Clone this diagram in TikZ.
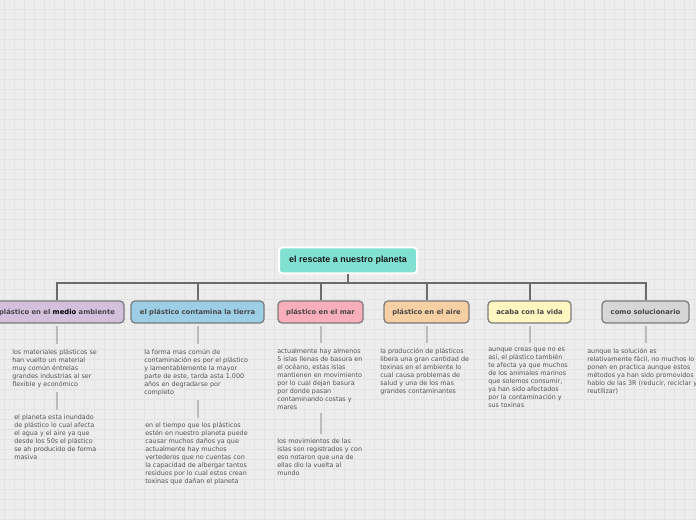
\documentclass[tikz,border=0pt]{standalone}
\usepackage{fontspec}
\setmainfont{DejaVu Sans}
\newfontfamily\rootfont{Liberation Sans}
\definecolor{bgc}{HTML}{EDEDED}
\definecolor{gridc}{HTML}{E3E3E3}
\definecolor{linec}{HTML}{6B6B6B}
\definecolor{sublinec}{HTML}{BBBBBB}
\definecolor{notec}{HTML}{555555}
\definecolor{labelc}{HTML}{474747}
\definecolor{rootc}{HTML}{80E1D2}
\definecolor{cpurple}{HTML}{D3C0DC}
\definecolor{cblue}{HTML}{9CCFE6}
\definecolor{cpink}{HTML}{F8AEBB}
\definecolor{cpeach}{HTML}{F6CFA3}
\definecolor{cyellow}{HTML}{FFF6C0}
\definecolor{cgrey}{HTML}{D6D6D6}
\begin{document}
\begin{tikzpicture}[x=0.75pt,y=-0.75pt,
  gridline/.style={gridc,line width=0.5pt},
  rootbox/.style={draw=white,line width=1.5pt,fill=rootc,rounded corners=2.5pt,
    minimum width=103.5pt,minimum height=19.5pt,inner sep=0pt,
    font=\rootfont\bfseries\fontsize{6.7pt}{8pt}\selectfont,text=black!90},
  topic/.style={draw=linec!90,line width=0.9pt,fill=#1,rounded corners=3pt,
    minimum height=16.5pt,inner sep=0pt,
    font=\bfseries\fontsize{5.1pt}{6pt}\selectfont,text=labelc},
  note/.style={anchor=north west,inner sep=0pt,align=left,text=notec,
    font=\fontsize{4.8pt}{6pt}\selectfont},
  link/.style={linec,line width=1.5pt},
  sublink/.style={sublinec,line width=1.5pt}
]
\useasboundingbox (0,0) rectangle (696,520);
\fill[bgc] (0,0) rectangle (696,520);
\foreach \gx in {4,14,...,694} \draw[gridline] (\gx,0) -- (\gx,520);
\foreach \gy in {9,19,...,519} \draw[gridline] (0,\gy) -- (696,\gy);

% root
\node[rootbox] (root) at (348,260.5) {el rescate a nuestro planeta};
\coordinate (bus) at (348,283);

% topics
\node[topic=cpurple,minimum width=100.5pt] (c1) at (57,312) {plástico en el \textcolor{black}{medio} ambiente};
\node[topic=cblue,minimum width=99.75pt] (c2) at (197.5,312) {el plástico contamina la tierra};
\node[topic=cpink,minimum width=63.75pt] (c3) at (320.5,312) {plástico en el mar};
\node[topic=cpeach,minimum width=63.75pt] (c4) at (426.5,312) {plástico en el aire};
\node[topic=cyellow,minimum width=62.25pt] (c5) at (529.5,312) {acaba con la vida};
\node[topic=cgrey,minimum width=65.25pt] (c6) at (645.5,312) {como solucionario};

% tree connectors
\draw[link] (root.south) -- (bus);
\foreach \c in {c1,c2,c3,c4,c5,c6}
  \draw[link] (bus) -| (\c.north);

% notes
\node[note] (n1a) at (12,349) {los materiales plásticos se\\han vuelto un material\\muy común éntrelas\\grandes industrias al ser\\flexible y económico};
\node[note] (n1b) at (14,414) {el planeta esta inundado\\de plástico lo cual afecta\\el agua y el aire ya que\\desde los 50s el plástico\\se ah producido de forma\\masiva};
\node[note] (n2a) at (144,349) {la forma mas común de\\contaminación es por el plástico\\y lamentablemente la mayor\\parte de este, tarda asta 1.000\\años en degradarse por\\completo};
\node[note] (n2b) at (145,422) {en el tiempo que los plásticos\\estén en nuestro planeta puede\\causar muchos daños ya que\\actualmente hay muchos\\vertederos que no cuentas con\\la capacidad de albergar tantos\\residuos por lo cual estos crean\\toxinas que dañan el planeta};
\node[note] (n3a) at (277,348) {actualmente hay almenos\\5 islas llenas de basura en\\el océano, estas islas\\mantienen en movimiento\\por lo cual dejan basura\\por donde pasan\\contaminando costas y\\mares};
\node[note] (n3b) at (277,438) {los movimientos de las\\islas son registrados y con\\eso notaron que una de\\ellas dio la vuelta al\\mundo};
\node[note] (n4a) at (380,348) {la producción de plásticos\\libera una gran cantidad de\\toxinas en el ambiente lo\\cual causa problemas de\\salud y una de los mas\\grandes contaminantes};
\node[note] (n5a) at (488,348) {aunque creas que no es\\así, el plástico también\\te afecta ya que muchos\\de los animales marinos\\que solemos consumir,\\ya han sido afectados\\por la contaminación y\\sus toxinas};
\node[note] (n6a) at (587,348) {aunque la solución es\\relativamente fácil, no muchos lo\\ponen en practica aunque estos\\métodos ya han sido promovidos\\hablo de las 3R (reducir, reciclar y\\reutilizar)};

% sub connectors
\draw[sublink,shorten <=1.5pt,shorten >=4pt] (c1.south) -- (c1.south |- n1a.north);
\draw[sublink,shorten <=1.5pt,shorten >=4pt] (c2.south) -- (c2.south |- n2a.north);
\draw[sublink,shorten <=1.5pt,shorten >=4pt] (c3.south) -- (c3.south |- n3a.north);
\draw[sublink,shorten <=1.5pt,shorten >=4pt] (c4.south) -- (c4.south |- n4a.north);
\draw[sublink,shorten <=1.5pt,shorten >=4pt] (c5.south) -- (c5.south |- n5a.north);
\draw[sublink,shorten <=1.5pt,shorten >=4pt] (c6.south) -- (c6.south |- n6a.north);
\draw[sublink,shorten <=3pt,shorten >=3pt] (c1.south |- n1a.south) -- (c1.south |- n1b.north);
\draw[sublink,shorten <=3pt,shorten >=3pt] (c2.south |- n2a.south) -- (c2.south |- n2b.north);
\draw[sublink,shorten <=3pt,shorten >=3pt] (c3.south |- n3a.south) -- (c3.south |- n3b.north);
\end{tikzpicture}
\end{document}
